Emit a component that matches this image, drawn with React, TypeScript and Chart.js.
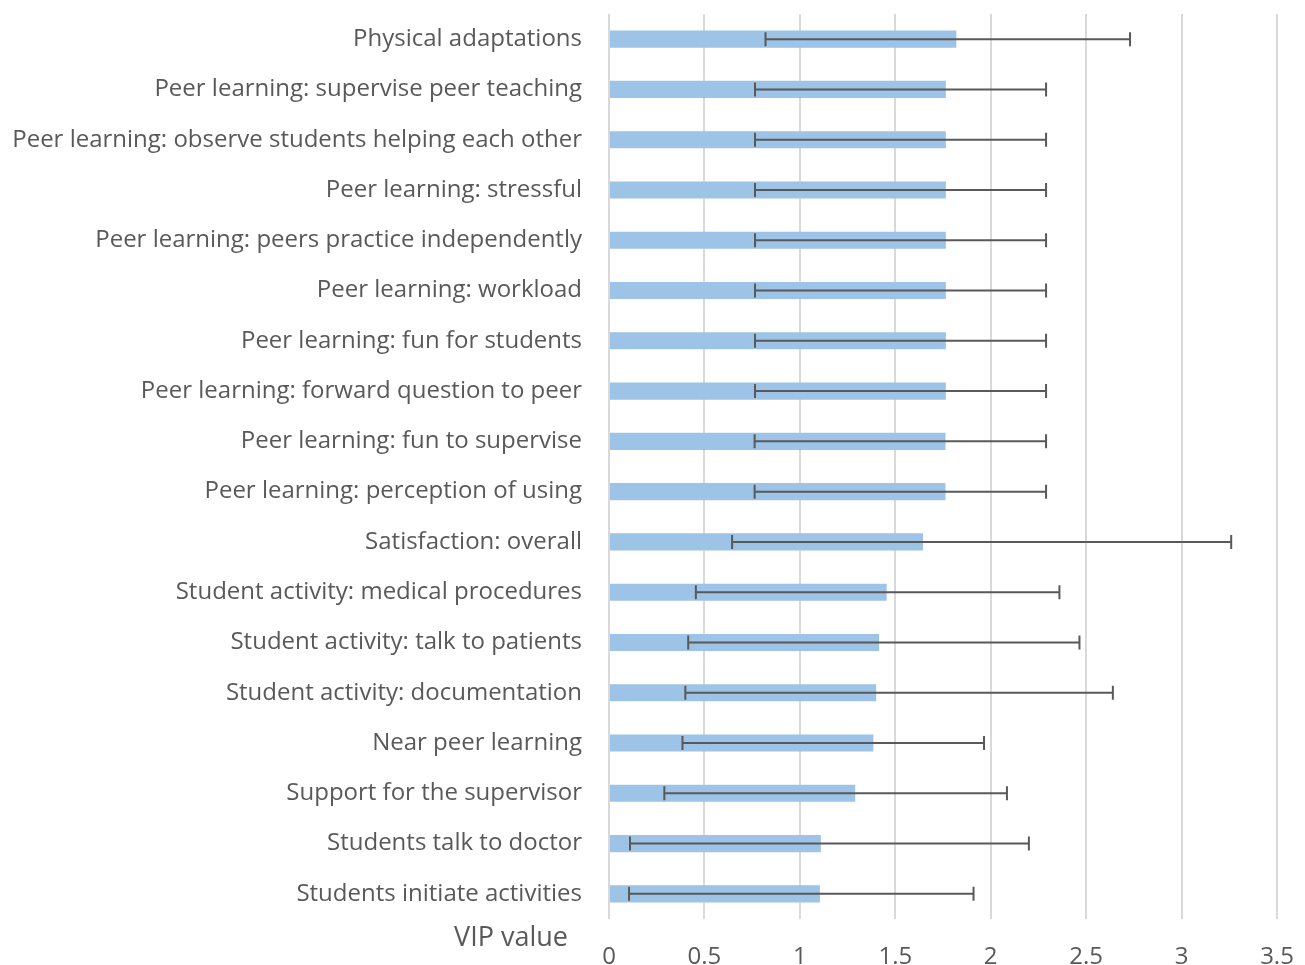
import React, { useEffect, useRef } from "react";
import { Chart, registerables } from "chart.js";

Chart.register(...registerables);

const categories = [
  "Physical adaptations",
  "Peer learning: supervise peer teaching",
  "Peer learning: observe students helping each other",
  "Peer learning: stressful",
  "Peer learning: peers practice independently",
  "Peer learning: workload",
  "Peer learning: fun for students",
  "Peer learning: forward question to peer",
  "Peer learning: fun to supervise",
  "Peer learning: perception of using",
  "Satisfaction: overall",
  "Student activity: medical procedures",
  "Student activity: talk to patients",
  "Student activity: documentation",
  "Near peer learning",
  "Support for the supervisor",
  "Students talk to doctor",
  "Students initiate activities",
];

const vipValues = [1.82, 1.765, 1.765, 1.765, 1.765, 1.765, 1.765, 1.765, 1.763, 1.763, 1.645, 1.455, 1.415, 1.4, 1.385, 1.29, 1.11, 1.105];
const errorLow = [0.82, 0.765, 0.765, 0.765, 0.765, 0.765, 0.765, 0.765, 0.763, 0.763, 0.645, 0.455, 0.415, 0.4, 0.385, 0.29, 0.11, 0.105];
const errorHigh = [2.73, 2.29, 2.29, 2.29, 2.29, 2.29, 2.29, 2.29, 2.29, 2.29, 3.26, 2.36, 2.465, 2.64, 1.965, 2.085, 2.2, 1.91];

const axisTitle = "VIP value";
const FONT = "'Open Sans'";
const TEXT = "#595959";

const errorBarPlugin = {
  id: "errorBars",
  afterDatasetsDraw(chart: any) {
    const ctx = chart.ctx;
    const xs = chart.scales.x;
    const ys = chart.scales.y;
    ctx.save();
    ctx.strokeStyle = "#595959";
    ctx.lineWidth = 2;
    for (let i = 0; i < categories.length; i++) {
      const y = ys.getPixelForValue(i);
      const x1 = xs.getPixelForValue(errorLow[i]);
      const x2 = xs.getPixelForValue(errorHigh[i]);
      ctx.beginPath();
      ctx.moveTo(x1, y);
      ctx.lineTo(x2, y);
      ctx.moveTo(x1, y - 7);
      ctx.lineTo(x1, y + 7);
      ctx.moveTo(x2, y - 7);
      ctx.lineTo(x2, y + 7);
      ctx.stroke();
    }
    ctx.restore();
  },
  afterDraw(chart: any) {
    const ctx = chart.ctx;
    const area = chart.chartArea;
    ctx.save();
    ctx.fillStyle = TEXT;
    ctx.font = `27px ${FONT}`;
    ctx.textAlign = "right";
    ctx.textBaseline = "middle";
    ctx.fillText(axisTitle, area.left - 41, 938);
    ctx.restore();
  },
};

export default function App() {
  const ref = useRef<HTMLCanvasElement>(null);
  useEffect(() => {
    if (!ref.current) return;
    const chart = new Chart(ref.current, {
      type: "bar",
      data: {
        labels: categories,
        datasets: [
          {
            data: vipValues,
            backgroundColor: "#9DC3E6",
            borderWidth: 0,
            barPercentage: 0.34,
            categoryPercentage: 1,
          },
        ],
      },
      options: {
        indexAxis: "y",
        animation: false,
        responsive: false,
        layout: { padding: { top: 14, right: 28, bottom: 0, left: 0 } },
        plugins: { legend: { display: false }, tooltip: { enabled: false } },
        scales: {
          x: {
            min: 0,
            max: 3.5,
            ticks: {
              stepSize: 0.5,
              color: TEXT,
              font: { family: FONT, size: 24 },
              padding: 24,
              callback: (v: any) => String(Number(v)),
            },
            grid: { color: "#D9D9D9", lineWidth: 2, drawTicks: false },
            border: { display: false },
            afterFit(scale: any) {
              scale.height = 46;
              scale.paddingLeft = 0;
              scale.paddingRight = 0;
            },
          },
          y: {
            ticks: {
              color: TEXT,
              font: { family: FONT, size: 24 },
              padding: 27,
            },
            grid: { display: false, drawTicks: false },
            border: { display: false },
            afterFit(scale: any) {
              scale.width = 609;
              scale.paddingTop = 0;
              scale.paddingBottom = 0;
            },
          },
        },
      },
      plugins: [errorBarPlugin],
    });
    return () => chart.destroy();
  }, []);
  return (
    <div style={{ position: "absolute", left: 0, top: 0, width: 1305, height: 965, background: "#fff" }}>
      <canvas ref={ref} width={1305} height={965} />
    </div>
  );
}
